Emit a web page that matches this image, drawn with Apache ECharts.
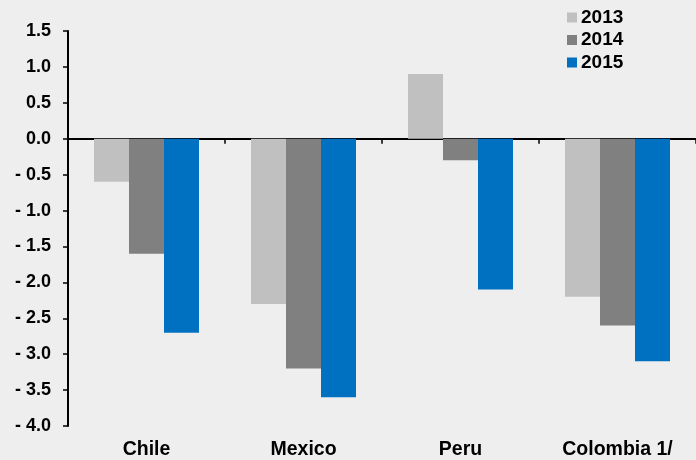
<!DOCTYPE html>
<html>
<head>
<meta charset="utf-8">
<script src="https://cdn.jsdelivr.net/npm/echarts@6/dist/echarts.min.js"></script>
<style>
  html, body { margin: 0; padding: 0; background: #eeeeee; }
  #chart { width: 696px; height: 460px; }
</style>
</head>
<body>
<div id="chart"></div>
<script>
// Countries along the category axis
const categories = ['Chile', 'Mexico', 'Peru', 'Colombia 1/'];
// Yearly values per country
const values2013 = [-0.6, -2.3, 0.9, -2.2];
const values2014 = [-1.6, -3.2, -0.3, -2.6];
const values2015 = [-2.7, -3.6, -2.1, -3.1];
// Value axis range
const yMin = -4.0;
const yMax = 1.5;
const yStep = 0.5;

const FONT = '"Liberation Sans", Arial, sans-serif';

const chart = echarts.init(document.getElementById('chart'), null, { renderer: 'canvas' });

function fmt(v) {
  return v < 0 ? '- ' + Math.abs(v).toFixed(1) : v.toFixed(1);
}

const colors = ['#c0c0c0', '#808080', '#0070c0'];

chart.setOption({
  backgroundColor: '#eeeeee',
  animation: false,
  grid: { left: 68, top: 31, width: 632, bottom: 34, containLabel: false },
  legend: {
    orient: 'vertical',
    left: 562,
    top: 3,
    itemWidth: 10,
    itemHeight: 10,
    itemGap: 3.5,
    icon: 'rect',
    textStyle: { fontFamily: FONT, fontWeight: 'bold', fontSize: 19, lineHeight: 19, color: '#000', padding: [0, 0, 0, -1] },
    data: ['2013', '2014', '2015']
  },
  xAxis: [
    {
      type: 'category',
      data: categories,
      position: 'bottom',
      axisLine: { onZero: true, lineStyle: { color: '#000', width: 2 } },
      axisTick: { show: true, length: 5, lineStyle: { color: '#000', width: 1.5 } },
      axisLabel: { show: false },
      splitLine: { show: false }
    },
    {
      type: 'category',
      data: categories,
      position: 'bottom',
      axisLine: { show: false, onZero: false },
      axisTick: { show: false },
      axisLabel: {
        show: true,
        margin: 14,
        fontFamily: FONT,
        fontWeight: 'bold',
        fontSize: 19.5,
        color: '#000'
      },
      splitLine: { show: false }
    }
  ],
  yAxis: {
    type: 'value',
    min: yMin,
    max: yMax,
    interval: yStep,
    axisLine: { show: true, lineStyle: { color: '#000', width: 2 } },
    axisTick: { show: true, length: 5, lineStyle: { color: '#000', width: 1.5 } },
    axisLabel: {
      formatter: fmt,
      margin: 17,
      fontFamily: FONT,
      fontWeight: 'bold',
      fontSize: 18,
      color: '#000'
    },
    splitLine: { show: false }
  },
  series: [
    { name: '2013', type: 'bar', data: values2013, barWidth: 35, barGap: '0%', itemStyle: { color: colors[0] } },
    { name: '2014', type: 'bar', data: values2014, barWidth: 35, barGap: '0%', itemStyle: { color: colors[1] } },
    { name: '2015', type: 'bar', data: values2015, barWidth: 35, barGap: '0%', itemStyle: { color: colors[2] } }
  ]
});
</script>
</body>
</html>
